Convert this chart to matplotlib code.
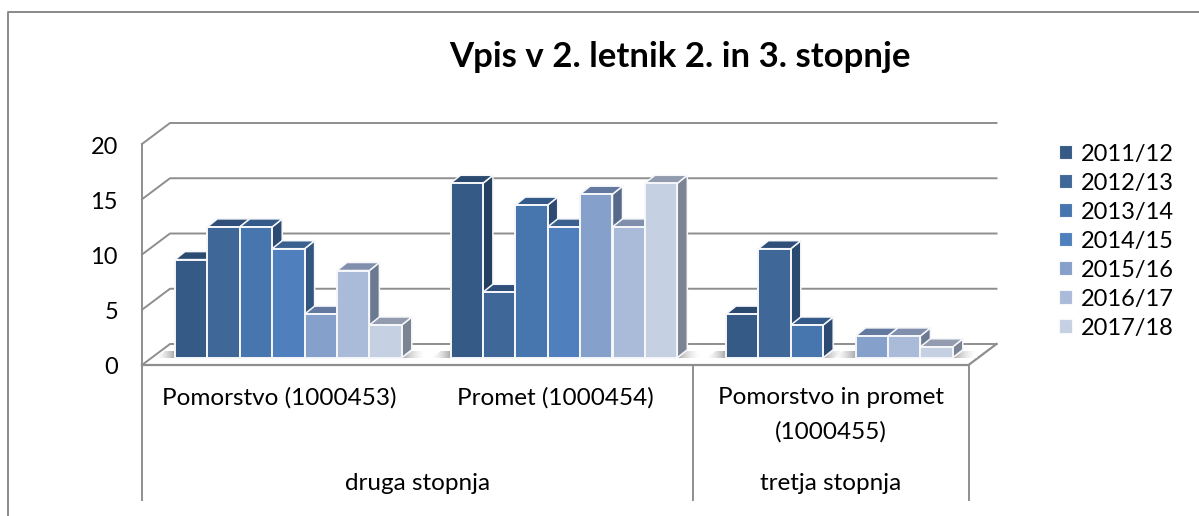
import numpy as np
import matplotlib
matplotlib.use('Agg')
import matplotlib.pyplot as plt
from matplotlib.patches import Patch, Polygon

plt.rcParams['font.family'] = ['Lato', 'DejaVu Sans']

years = ['2011/12', '2012/13', '2013/14', '2014/15', '2015/16', '2016/17', '2017/18']
categories = ['Pomorstvo (1000453)', 'Promet (1000454)', 'Pomorstvo in promet\n(1000455)']
levels = ['druga stopnja', 'tretja stopnja']
level_spans = [(0, 2), (2, 3)]
values = [
    [9, 12, 12, 10, 4, 8, 3],
    [16, 6, 14, 12, 15, 12, 16],
    [4, 10, 3, 0, 2, 2, 1],
]
y_ticks = [0, 5, 10, 15, 20]
title = 'Vpis v 2. letnik 2. in 3. stopnje'

front_colors = ['#355a86', '#3f6798', '#4775ae', '#4f80bd', '#85a0cb', '#aabbd9', '#c5d0e3']
side_colors = ['#253f60', '#2a4a70', '#2d4a73', '#335680', '#57698a', '#6c7a91', '#7c8494']
top_colors = ['#2b4a70', '#2f4f7a', '#335a88', '#3a6090', '#63799f', '#808fac', '#929cae']
grid_color = '#8e8e8e'
edge_color = '#f6f7fa'

W, H = 1199, 516
X0, CAT_W = 142, 275.5   # pixel position of category 0 and width of one category
Y0, UNIT = 365, 11.05    # pixel position of value 0 and height of one value unit


def dx(px):
    return px / CAT_W


def dy(px):
    return px / UNIT


def x_px(px):
    return (px - X0) / CAT_W


def y_px(px):
    return (Y0 - px) / UNIT


fig = plt.figure(figsize=(W / 100, H / 100), dpi=100)
ax = fig.add_axes([0, 0, 1, 1])
ax.set_axis_off()
xlim = (x_px(0), x_px(W))
ylim = (y_px(H), y_px(0))

depth_x, depth_y = dx(28), dy(21)
n_cat = len(categories)

# outer chart border
ax.plot([x_px(8), x_px(8), x_px(W)], [y_px(H), y_px(12), y_px(12)], color='#8a8a8a', lw=1.4)

# walls and floor
for t in y_ticks:
    ax.plot([0, depth_x, n_cat + depth_x], [t, t + depth_y, t + depth_y], color=grid_color, lw=1.4, zorder=1)
    ax.text(x_px(118), t - dy(3), str(t), ha='right', va='center', fontsize=17, color='black')
ax.plot([0, 0], [20, y_px(500)], color=grid_color, lw=1.4, zorder=1)
ax.plot([0, n_cat, n_cat + depth_x], [0, 0, depth_y], color=grid_color, lw=1.6, zorder=1)
for x in [2, 3]:
    ax.plot([x, x], [0, y_px(500)], color=grid_color, lw=1.4, zorder=1)

# bars
bar_w = dx(32.4)
start = dx(33)
base = dy(7.3)
side_x, side_y = dx(10), dy(8)
h_scale = 10.9 / UNIT
shadow_cmap = matplotlib.colors.LinearSegmentedColormap.from_list('sh', ['#ffffff', '#a8a8a8'])


def floor_shadow(x_at_bar, width):
    # fades away from the bar over the floor
    y1, y2 = base, base + dy(7)
    grad = (np.linspace(0, 1, 32) ** 1.6).reshape(1, -1)
    if width > 0:
        grad = grad[:, ::-1]
        x1, x2 = x_at_bar, x_at_bar + width
    else:
        x1, x2 = x_at_bar + width, x_at_bar
    pts = [(x1, y1), (x2, y1), (x2, y2), (x1 + side_x, y2)]
    img = ax.imshow(grad, extent=(x1, x2, y1, y2), cmap=shadow_cmap, aspect='auto', zorder=2, vmin=0, vmax=1)
    img.set_clip_path(Polygon(pts, transform=ax.transData))


for c, group in enumerate(values):
    left = c + start
    right = left + bar_w * len(group)
    floor_shadow(left, -dx(20))
    floor_shadow(right, dx(24))
    for i, v in enumerate(group):
        x = left + i * bar_w
        if v == 0:
            floor_shadow(x, dx(22))
            floor_shadow(x + bar_w, -dx(22))
            continue
        top = base + v * h_scale
        z = 3 + i * 0.01
        ax.add_patch(Polygon([(x + bar_w, base), (x + bar_w + side_x, base + side_y),
                              (x + bar_w + side_x, top + side_y), (x + bar_w, top)],
                             facecolor=side_colors[i], edgecolor=edge_color, lw=1.1, zorder=z))
        ax.add_patch(Polygon([(x, top), (x + side_x, top + side_y),
                              (x + bar_w + side_x, top + side_y), (x + bar_w, top)],
                             facecolor=top_colors[i], edgecolor=edge_color, lw=1.1, zorder=z))
        ax.bar(x, top - base, width=bar_w, bottom=base, align='edge', color=front_colors[i],
               edgecolor=edge_color, lw=1.4, zorder=z)

# category labels, one text per line to keep the wide line gap
for c, label in enumerate(categories):
    for k, line in enumerate(label.split('\n')):
        ax.text(c + 0.5, y_px(398 + 34 * k), line, ha='center', va='center', fontsize=17.5, color='black')
for (a, b), label in zip(level_spans, levels):
    ax.text((a + b) / 2, y_px(484), label, ha='center', va='center', fontsize=17.5, color='black')

ax.text(x_px(680), y_px(57), title, ha='center', va='center', fontsize=25, fontweight='bold', color='black')

handles = [Patch(facecolor=col, edgecolor=edge_color, lw=0.8) for col in front_colors]
ax.legend(handles, years, loc='upper left', bbox_to_anchor=(1059 / W, 1 - 143.5 / H), frameon=False,
          fontsize=17, handlelength=0.55, handleheight=0.55, handletextpad=0.36, labelspacing=0.34,
          borderpad=0, borderaxespad=0)

ax.set_xlim(xlim)
ax.set_ylim(ylim)
fig.savefig('out.png', dpi=100, facecolor='white')
